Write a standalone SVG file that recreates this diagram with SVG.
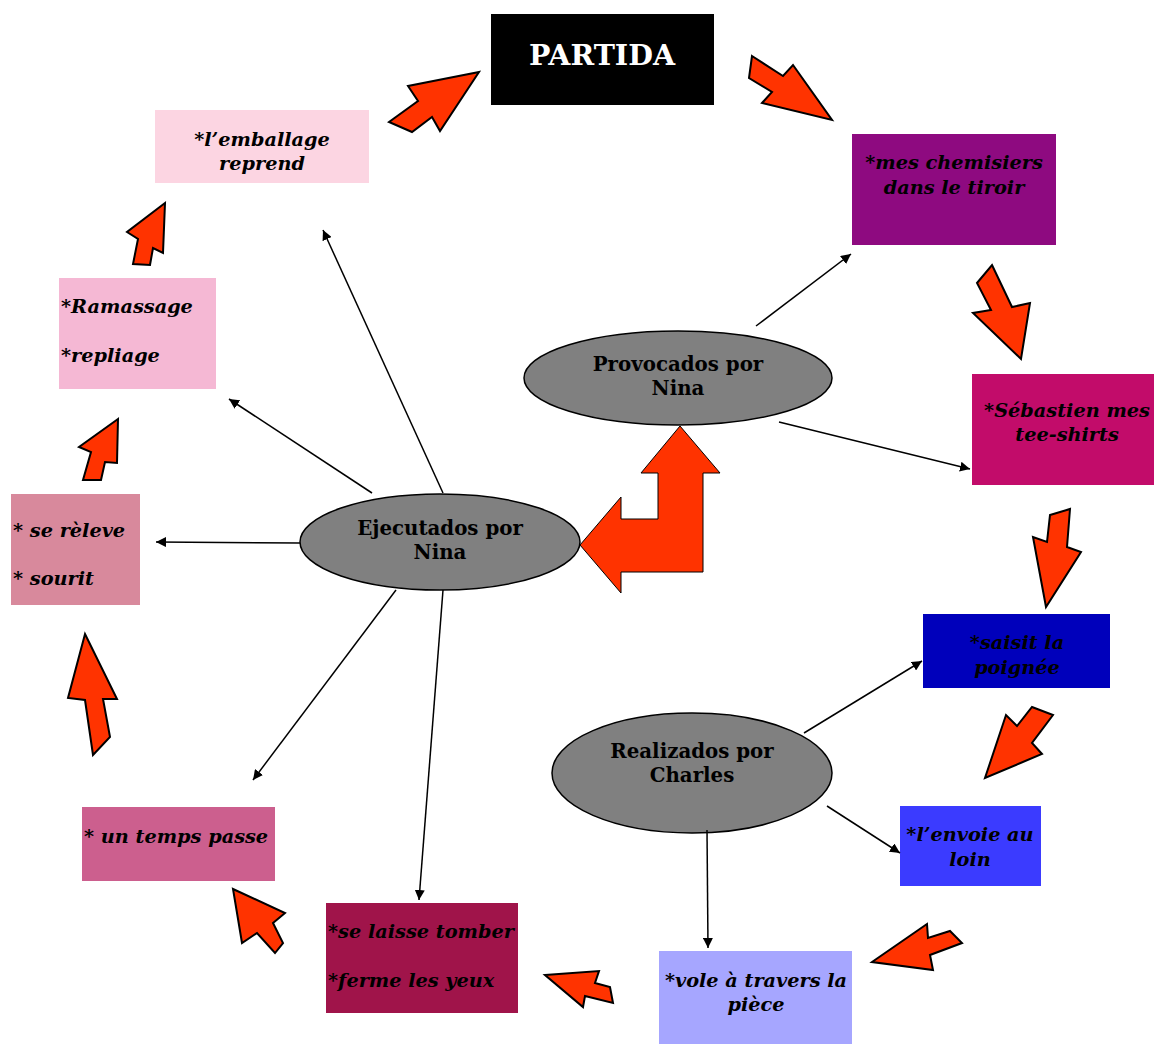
<svg xmlns="http://www.w3.org/2000/svg" width="1154" height="1044" viewBox="0 0 1154 1044">
<defs>
<marker id="ah" viewBox="0 0 10 10" refX="10" refY="5" markerWidth="10" markerHeight="10" markerUnits="userSpaceOnUse" orient="auto">
<path d="M0,0 L10,5 L0,10 z" fill="#000"/>
</marker>
</defs>
<style>
.t{font-family:"DejaVu Serif","Liberation Serif",serif;font-weight:bold;font-style:italic;font-size:19.3px;fill:#000}
.e{font-family:"DejaVu Serif","Liberation Serif",serif;font-weight:bold;font-size:19.8px;fill:#000}
.ell{fill:#808080;stroke:#000;stroke-width:1.5}
.big{fill:#ff3300;stroke:#000;stroke-width:2;stroke-linejoin:miter}
.c{stroke:#000;stroke-width:1.5;fill:none;marker-end:url(#ah)}
</style>
<rect width="1154" height="1044" fill="#fff"/>

<g id="partida">
<rect x="491" y="14" width="223" height="91" fill="#000"/>
<text x="602" y="65" text-anchor="middle" style="font-family:'DejaVu Serif','Liberation Serif',serif;font-weight:bold;font-size:28.5px;fill:#fff">PARTIDA</text>
</g>
<g id="emballage">
<rect x="155" y="110" width="214" height="73" fill="#fcd5e2"/>
<text class="t" x="262" y="146" text-anchor="middle">*l’emballage</text>
<text class="t" x="262" y="170" text-anchor="middle">reprend</text>
</g>
<g id="chemisiers">
<rect x="852" y="134" width="204" height="111" fill="#8e0a80"/>
<text class="t" x="954" y="169" text-anchor="middle">*mes chemisiers</text>
<text class="t" x="954" y="194" text-anchor="middle">dans le tiroir</text>
</g>
<g id="sebastien">
<rect x="972" y="374" width="182" height="111" fill="#c20c6a"/>
<text class="t" x="1067" y="417" text-anchor="middle">*Sébastien mes</text>
<text class="t" x="1067" y="441" text-anchor="middle">tee-shirts</text>
</g>
<g id="saisit">
<rect x="923" y="614" width="187" height="74" fill="#0000bb"/>
<text class="t" x="1017" y="649" text-anchor="middle">*saisit la</text>
<text class="t" x="1017" y="674" text-anchor="middle">poignée</text>
</g>
<g id="envoie">
<rect x="900" y="806" width="141" height="80" fill="#3b3bff"/>
<text class="t" x="970" y="841" text-anchor="middle">*l’envoie au</text>
<text class="t" x="970" y="866" text-anchor="middle">loin</text>
</g>
<g id="vole">
<rect x="659" y="951" width="193" height="93" fill="#a6a6ff"/>
<text class="t" x="756" y="987" text-anchor="middle">*vole à travers la</text>
<text class="t" x="756" y="1011" text-anchor="middle">pièce</text>
</g>
<g id="laisse">
<rect x="326" y="903" width="192" height="110" fill="#a0144a"/>
<text class="t" x="328" y="938">*se laisse tomber</text>
<text class="t" x="328" y="987">*ferme les yeux</text>
</g>
<g id="temps">
<rect x="82" y="807" width="193" height="74" fill="#cc5f8e"/>
<text class="t" x="84" y="843">* un temps passe</text>
</g>
<g id="releve">
<rect x="11" y="494" width="129" height="111" fill="#d8899c"/>
<text class="t" x="13" y="537">* se rèleve</text>
<text class="t" x="13" y="585">* sourit</text>
</g>
<g id="ramassage">
<rect x="59" y="278" width="157" height="111" fill="#f5b8d4"/>
<text class="t" x="61" y="313">*Ramassage</text>
<text class="t" x="61" y="362">*repliage</text>
</g>

<g id="provocados">
<ellipse class="ell" cx="678" cy="378" rx="154" ry="47"/>
<text class="e" x="678" y="371" text-anchor="middle">Provocados por</text>
<text class="e" x="678" y="395" text-anchor="middle">Nina</text>
</g>
<g id="ejecutados">
<ellipse class="ell" cx="440" cy="542" rx="140" ry="48"/>
<text class="e" x="440" y="535" text-anchor="middle">Ejecutados por</text>
<text class="e" x="440" y="559" text-anchor="middle">Nina</text>
</g>
<g id="realizados">
<ellipse class="ell" cx="692" cy="773" rx="140" ry="60"/>
<text class="e" x="692" y="758" text-anchor="middle">Realizados por</text>
<text class="e" x="692" y="782" text-anchor="middle">Charles</text>
</g>

<g id="connectors">
<line class="c" x1="756" y1="326" x2="851" y2="254"/>
<line class="c" x1="779" y1="422" x2="970" y2="469"/>
<line class="c" x1="372" y1="493" x2="229" y2="399"/>
<line class="c" x1="443" y1="493" x2="323" y2="230"/>
<line class="c" x1="300" y1="543" x2="156" y2="542"/>
<line class="c" x1="396" y1="590" x2="253" y2="780"/>
<line class="c" x1="443" y1="590" x2="419" y2="900"/>
<line class="c" x1="804" y1="733" x2="922" y2="661"/>
<line class="c" x1="827" y1="806" x2="900" y2="853"/>
<line class="c" x1="707" y1="830" x2="708" y2="948"/>
</g>

<g id="block-arrows">
<polygon class="big" points="479,72 408,86 418,101 389,122 412,132 432,117 440,131"/>
<polygon class="big" points="752,56 783,76 793,65 832,120 762,103 772,92 749,78"/>
<polygon class="big" points="992,265 1012,307 1030,303 1021,359 973,313 991,310 977,283"/>
<polygon class="big" points="1050,515 1070,509 1067,547 1081,552 1046,607 1033,537 1047,542"/>
<polygon class="big" points="1032,707 1053,715 1032,743 1042,754 985,778 1006,715 1017,726"/>
<polygon class="big" points="872,962 927,924 928,938 950,931 962,943 930,955 933,970"/>
<polygon class="big" points="545,975 599,971 595,983 610,987 613,1003 585,996 583,1007"/>
<polygon class="big" points="233,889 285,913 273,923 283,943 275,953 257,933 242,943"/>
<polygon class="big" points="85,634 117,699 103,699 110,737 93,755 85,700 68,698"/>
<polygon class="big" points="118,419 79,447 91,452 83,480 101,480 105,462 117,463"/>
<polygon class="big" points="165,203 127,232 138,239 133,264 150,265 153,248 163,253"/>
<polygon class="big" style="stroke-width:1" points="680,426 720,473 703,473 703,572 621,572 621,593 580,545 621,497 621,519 658,519 658,473 641,473"/>
</g>
</svg>
